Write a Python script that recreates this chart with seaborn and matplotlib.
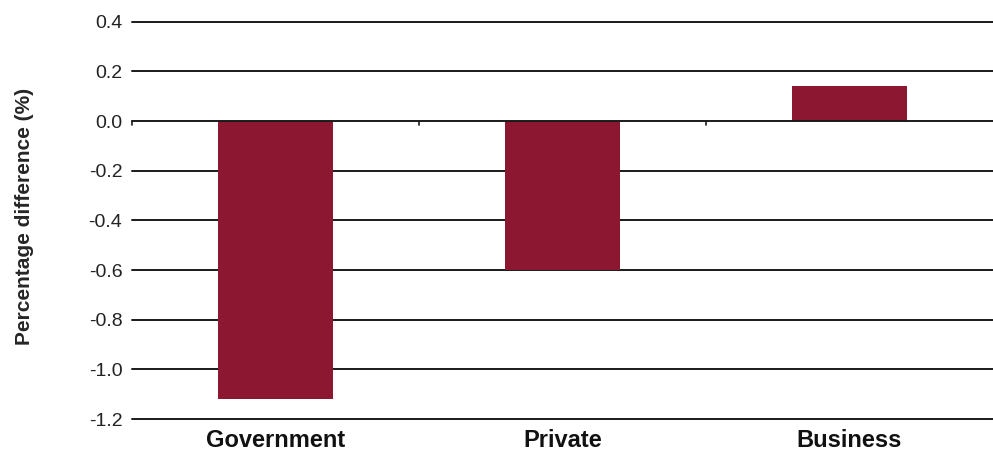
import pandas as pd
import matplotlib.pyplot as plt
import seaborn as sns

# Data
sectors = ["Government", "Private", "Business"]
pct_diff = [-1.12, -0.60, 0.14]
y_ticks = [0.4, 0.2, 0.0, -0.2, -0.4, -0.6, -0.8, -1.0, -1.2]

df = pd.DataFrame({"Sector": sectors, "Diff": pct_diff})

sns.set_style("white")
plt.rcParams['font.family'] = ['Liberation Sans', 'DejaVu Sans']

fig = plt.figure(figsize=(9.93, 4.54), dpi=100)
ax = fig.add_axes([0.133, 0.077, 0.867, 0.875])

sns.barplot(data=df, x="Sector", y="Diff", color="#8C1730", width=0.4,
            saturation=1, linewidth=0, ax=ax, zorder=2)

# horizontal rules at each tick
for v in y_ticks:
    ax.axhline(v, color="#1a1a1a", lw=1.4, zorder=1 if v != 0 else 3, clip_on=False)

# small ticks on the zero line between categories
for b in [-0.5, 0.5, 1.5]:
    ax.plot([b, b], [0, -0.015], color="#1a1a1a", lw=1.2, zorder=3, clip_on=False)

ax.set_xlim(-0.5, 2.5)
ax.set_ylim(-1.2, 0.4)
ax.set_yticks(y_ticks)
ax.set_yticklabels([f"{v:.1f}" for v in y_ticks], fontsize=14, color="#222222")
ax.tick_params(axis="y", length=0, pad=7)
ax.tick_params(axis="x", length=0, pad=7)
for lab in ax.get_xticklabels():
    lab.set_fontsize(17)
    lab.set_fontweight("bold")
    lab.set_color("#111111")

ax.set_xlabel("")
ax.set_ylabel("Percentage difference (%)", fontsize=15, fontweight="bold", labelpad=0)
ax.yaxis.set_label_coords(-0.114, 0.51)
sns.despine(ax=ax, left=True, bottom=True)

plt.savefig("out.png", dpi=100)
